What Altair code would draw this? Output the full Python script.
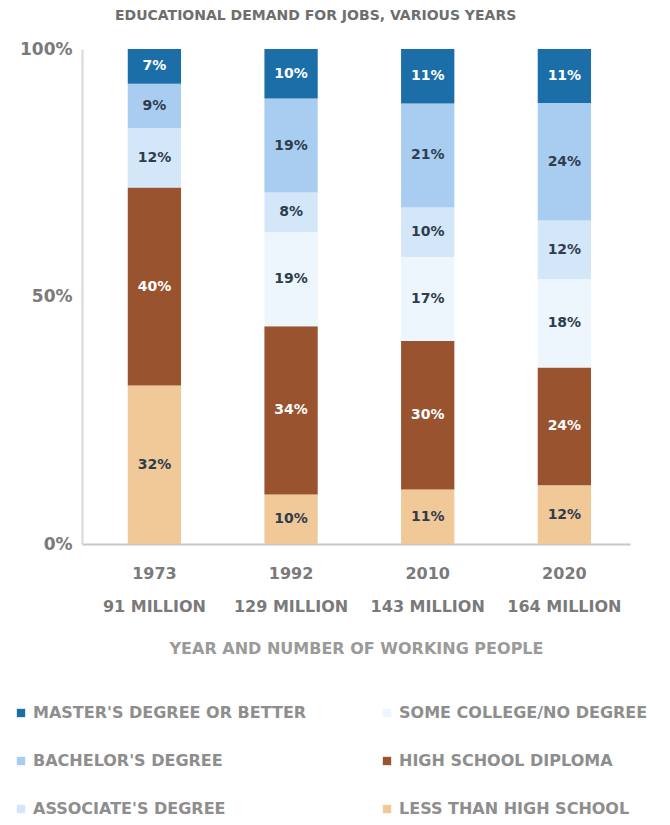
import altair as alt
import pandas as pd

years = ["1973", "1992", "2010", "2020"]
workers = ["91 MILLION", "129 MILLION", "143 MILLION", "164 MILLION"]

# stacking order: bottom -> top
categories = [
    "LESS THAN HIGH SCHOOL",
    "HIGH SCHOOL DIPLOMA",
    "SOME COLLEGE/NO DEGREE",
    "ASSOCIATE'S DEGREE",
    "BACHELOR'S DEGREE",
    "MASTER'S DEGREE OR BETTER",
]
less_hs = [32, 10, 11, 12]
hs_diploma = [40, 34, 30, 24]
some_college = [0, 19, 17, 18]
associates = [12, 8, 10, 12]
bachelors = [9, 19, 21, 24]
masters = [7, 10, 11, 11]

series = [less_hs, hs_diploma, some_college, associates, bachelors, masters]

legend_order = [
    "MASTER'S DEGREE OR BETTER",
    "BACHELOR'S DEGREE",
    "ASSOCIATE'S DEGREE",
    "SOME COLLEGE/NO DEGREE",
    "HIGH SCHOOL DIPLOMA",
    "LESS THAN HIGH SCHOOL",
]
colors = {
    "MASTER'S DEGREE OR BETTER": "#1c6ea8",
    "BACHELOR'S DEGREE": "#a9cdf1",
    "ASSOCIATE'S DEGREE": "#d3e7f9",
    "SOME COLLEGE/NO DEGREE": "#eef6fd",
    "HIGH SCHOOL DIPLOMA": "#99532f",
    "LESS THAN HIGH SCHOOL": "#f1c898",
}
light_text = ["MASTER'S DEGREE OR BETTER", "HIGH SCHOOL DIPLOMA"]

rows = []
for ci, (cat, vals) in enumerate(zip(categories, series)):
    for yi, (yr, wk) in enumerate(zip(years, workers)):
        if vals[yi] > 0:
            rows.append({
                "year": yr + "|" + wk,
                "cat": cat,
                "value": vals[yi],
                "order": ci,
                "label": f"{vals[yi]}%",
                "light": cat in light_text,
            })
df = pd.DataFrame(rows)

FONT = "DejaVu Sans"
GREY = "#7a7a7a"
xsort = [y + "|" + w for y, w in zip(years, workers)]

base = alt.Chart(df).transform_stack(
    stack="value",
    groupby=["year"],
    sort=[alt.SortField("order", "ascending")],
    offset="normalize",
    as_=["y0", "y1"],
).transform_calculate(ymid="(datum.y0 + datum.y1) / 2")

xenc = alt.X(
    "year:N",
    sort=xsort,
    scale=alt.Scale(paddingInner=0.61, paddingOuter=0.31, align=0.54),
    axis=alt.Axis(
        title="YEAR AND NUMBER OF WORKING PEOPLE",
        labelExpr="split(datum.label, '|')",
        labelAngle=0,
        labelFont=FONT,
        labelFontSize=16,
        labelFontWeight="bold",
        labelColor=GREY,
        labelLineHeight=33,
        labelPadding=21,
        ticks=False,
        domainColor="#c8c8c8",
        domainWidth=2,
        titleFont=FONT,
        titleFontSize=16,
        titleFontWeight="bold",
        titleColor="#9a9a9a",
        titlePadding=26,
    ),
)

bars = base.mark_bar().encode(
    x=xenc,
    y=alt.Y(
        "y0:Q",
        scale=alt.Scale(domain=[0, 1]),
        axis=alt.Axis(
            title=None,
            values=[0, 0.5, 1],
            format=".0%",
            grid=False,
            ticks=False,
            labelFont=FONT,
            labelFontSize=17,
            labelFontWeight="bold",
            labelColor=GREY,
            labelPadding=10,
            domainColor="#d8d8d8",
            domainWidth=2,
        ),
    ),
    y2="y1:Q",
    color=alt.Color(
        "cat:N",
        scale=alt.Scale(domain=legend_order, range=[colors[c] for c in legend_order]),
        legend=alt.Legend(
            title=None,
            orient="none",
            legendX=-69,
            legendY=656,
            columns=2,
            columnPadding=72,
            rowPadding=32,
            symbolType="square",
            symbolSize=70,
            symbolStrokeWidth=0,
            labelFont=FONT,
            labelFontSize=16,
            labelFontWeight="bold",
            labelColor="#8e8e8e",
            labelLimit=400,
        ),
    ),
)

text = base.mark_text(font=FONT, fontSize=14, fontWeight="bold").encode(
    x=alt.X("year:N", sort=xsort),
    y="ymid:Q",
    text="label:N",
    color=alt.condition("datum.light", alt.value("#ffffff"), alt.value("#2e3d4e")),
)

chart = alt.layer(bars, text).properties(
    width=548,
    height=495,
    padding={"left": 5, "top": 1, "right": 5, "bottom": 5},
    title=alt.TitleParams(
        "EDUCATIONAL DEMAND FOR JOBS, VARIOUS YEARS",
        anchor="start",
        frame="group",
        font=FONT,
        fontSize=14,
        fontWeight="bold",
        color="#6e6e6e",
        offset=17,
        dx=33,
    ),
).configure_view(stroke=None)

chart.save("out.html", embed_options={"renderer": "svg", "actions": False})
